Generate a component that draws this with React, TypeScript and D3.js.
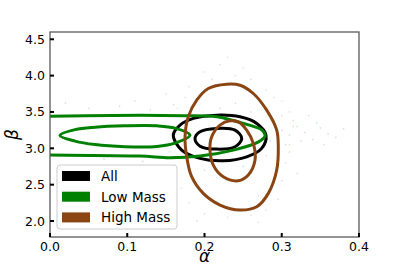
import React from 'react';
import * as d3 from 'd3';

// contour loops, [alpha, beta]
const allOuter: [number, number][] = [
  [0.1596, 3.181], [0.1683, 3.319], [0.1855, 3.411], [0.2158, 3.456], [0.246, 3.433],
  [0.2676, 3.342], [0.2796, 3.181], [0.274, 2.999], [0.2546, 2.883], [0.2243, 2.828],
  [0.1942, 2.861], [0.1705, 2.975],
];
const allInner: [number, number][] = [
  [0.1877, 3.136], [0.1942, 3.227], [0.2158, 3.273], [0.2395, 3.25],
  [0.2482, 3.136], [0.2395, 3.021], [0.2158, 2.989], [0.1942, 3.03],
];
const lowOuter: [number, number][] = [
  [-0.1, 3.44], [0.0, 3.442], [0.1165, 3.456], [0.1722, 3.449], [0.2158, 3.433],
  [0.2502, 3.342], [0.2744, 3.25], [0.2783, 3.168], [0.2693, 3.085], [0.2373, 2.975],
  [0.1942, 2.893], [0.1553, 2.87], [0.1165, 2.893], [0.0, 2.907], [-0.1, 2.91],
];
const lowInner: [number, number][] = [
  [0.0129, 3.177], [0.0324, 3.257], [0.0583, 3.291], [0.0971, 3.309], [0.1385, 3.309],
  [0.1618, 3.277], [0.1812, 3.181], [0.1618, 3.071], [0.1385, 3.026], [0.0971, 3.023],
  [0.0583, 3.051], [0.0324, 3.099],
];
const highOuter: [number, number][] = [
  [0.2287, 3.882], [0.2049, 3.823], [0.1899, 3.662], [0.179, 3.433], [0.1748, 3.158],
  [0.177, 2.883], [0.1834, 2.609], [0.1984, 2.38], [0.2201, 2.22], [0.246, 2.151],
  [0.2676, 2.196], [0.2826, 2.38], [0.2935, 2.701], [0.2955, 3.021], [0.2935, 3.25],
  [0.2805, 3.525], [0.2632, 3.754], [0.246, 3.868],
];
const highInner: [number, number][] = [
  [0.233, 3.378], [0.2201, 3.319], [0.2093, 3.158], [0.2071, 2.975], [0.2114, 2.769],
  [0.2243, 2.609], [0.2438, 2.554], [0.2567, 2.632], [0.2654, 2.838], [0.2632, 3.067],
  [0.2546, 3.25], [0.2438, 3.364],
];

// faint sample points behind the contours
const lowScatter: [number, number][] = [
  [0.30, 3.25], [0.31, 3.18], [0.32, 3.30], [0.33, 3.22], [0.34, 3.12], [0.35, 3.28],
  [0.36, 3.20], [0.305, 3.05], [0.315, 3.38], [0.325, 3.10], [0.29, 3.36], [0.295, 3.02],
  [0.345, 3.35], [0.37, 3.15], [0.38, 3.27], [0.31, 2.95], [0.28, 2.90], [0.05, 3.55],
  [0.09, 3.58], [0.13, 3.53], [0.16, 3.60], [0.02, 3.62], [0.07, 2.85], [0.12, 2.82],
  [0.18, 2.78], [0.22, 3.55], [0.26, 3.50], [0.24, 3.62], [0.335, 3.45], [0.355, 3.05],
  [0.285, 3.10], [0.30, 3.45], [0.20, 2.70], [0.25, 2.75], [0.11, 3.65],
];
const highScatter: [number, number][] = [
  [0.20, 4.05], [0.22, 4.15], [0.24, 4.00], [0.26, 3.95], [0.18, 3.85], [0.28, 3.80],
  [0.30, 3.65], [0.31, 3.50], [0.165, 3.55], [0.16, 3.30], [0.155, 2.95], [0.16, 2.70],
  [0.17, 2.45], [0.18, 2.25], [0.20, 2.10], [0.23, 2.05], [0.26, 2.08], [0.28, 2.15],
  [0.295, 2.30], [0.30, 2.55], [0.305, 2.80], [0.31, 3.05], [0.21, 3.95], [0.25, 4.10],
  [0.19, 2.00], [0.27, 1.98], [0.29, 3.70], [0.175, 3.70], [0.32, 2.65], [0.315, 3.30],
  [0.23, 4.25], [0.15, 3.75], [0.21, 2.30], [0.27, 2.35],
];

const xTicks = [0.0, 0.1, 0.2, 0.3, 0.4];
const yTicks = [2.0, 2.5, 3.0, 3.5, 4.0, 4.5];
const xDomain = [0, 0.4];
const yDomain = [1.78, 4.6];

const series = [
  { name: 'All', color: '#000000', loops: [allOuter, allInner] },
  { name: 'Low Mass', color: '#008000', loops: [lowOuter, lowInner] },
  { name: 'High Mass', color: '#8B4513', loops: [highOuter, highInner] },
];

const W = 399;
const H = 266;
const margin = { top: 32, right: 40, bottom: 29, left: 50 };
const font = 'DejaVu Sans, sans-serif';

export default function App() {
  const iw = W - margin.left - margin.right;
  const ih = H - margin.top - margin.bottom;
  const x = d3.scaleLinear().domain(xDomain).range([0, iw]);
  const y = d3.scaleLinear().domain(yDomain).range([ih, 0]);
  const line = d3.line<[number, number]>()
    .x(d => x(d[0]))
    .y(d => y(d[1]))
    .curve(d3.curveCatmullRomClosed.alpha(0.5));

  return (
    <svg width={W} height={H} style={{ position: 'absolute', left: 0, top: 0, background: '#fff' }}>
      <defs>
        <clipPath id="plot">
          <rect x={0} y={0} width={iw} height={ih} />
        </clipPath>
      </defs>
      <g transform={`translate(${margin.left},${margin.top})`}>
        <g clipPath="url(#plot)">
          {lowScatter.map((d, i) => (
            <circle key={'l' + i} cx={x(d[0])} cy={y(d[1])} r={0.9} fill="#008000" opacity={0.18} />
          ))}
          {highScatter.map((d, i) => (
            <circle key={'h' + i} cx={x(d[0])} cy={y(d[1])} r={0.9} fill="#8B4513" opacity={0.15} />
          ))}
          {series.map(s => s.loops.map((loop, j) => (
            <path key={s.name + j} d={line(loop) || ''} fill="none" stroke={s.color} strokeWidth={3} />
          )))}
        </g>

        {/* frame */}
        <rect x={0} y={0} width={iw} height={ih} fill="none" stroke="#5a5a5a" strokeWidth={1.3} />

        {/* ticks, pointing in */}
        {xTicks.map(t => (
          <g key={'x' + t} transform={`translate(${x(t)},${ih})`}>
            <line y1={0} y2={-4} stroke="#000" strokeWidth={2} />
            <text y={14} textAnchor="middle" fontFamily={font} fontSize={12.5} fill="#000">{t.toFixed(1)}</text>
          </g>
        ))}
        {yTicks.map(t => (
          <g key={'y' + t} transform={`translate(0,${y(t)})`}>
            <line x1={0} x2={4} stroke="#000" strokeWidth={2} />
            <text x={-5} dy="0.36em" textAnchor="end" fontFamily={font} fontSize={12.5} fill="#000">{t.toFixed(1)}</text>
          </g>
        ))}

        <text x={iw / 2} y={ih + 25} textAnchor="middle" fontFamily={font} fontStyle="italic" fontSize={17} fill="#000">α</text>
        <text transform={`translate(-32,${ih / 2}) rotate(-90)`} textAnchor="middle" fontFamily={font} fontStyle="italic" fontSize={17} fill="#000">β</text>

        {/* legend */}
        <g transform="translate(7,133)">
          <rect x={0} y={0} width={120} height={64} rx={3} fill="#fff" fillOpacity={0.8} stroke="#ccc" strokeWidth={1} />
          {series.map((s, i) => (
            <g key={s.name} transform={`translate(0,${11 + i * 20.7})`}>
              <rect x={5} y={-5} width={28} height={10} fill={s.color} />
              <text x={44} dy="0.36em" fontFamily={font} fontSize={13.5} fill="#000">{s.name}</text>
            </g>
          ))}
        </g>
      </g>
    </svg>
  );
}
